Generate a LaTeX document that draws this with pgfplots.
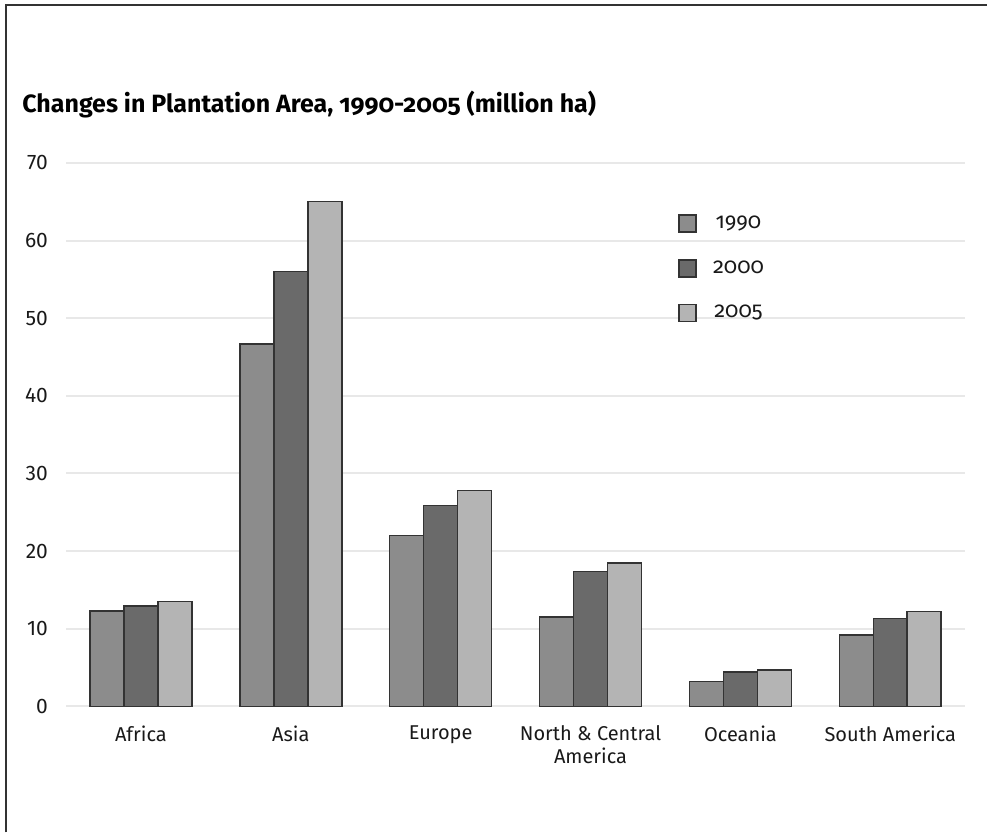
\documentclass[border=0pt]{standalone}
\usepackage{fontspec}
\setmainfont{Fira Sans}
\newfontfamily\oldnum{Fira Sans}[Numbers=OldStyle]
\usepackage{pgfplots}
\pgfplotsset{compat=1.18}

\definecolor{cA}{HTML}{8C8C8C}
\definecolor{cB}{HTML}{6A6A6A}
\definecolor{cC}{HTML}{B4B4B4}

\begin{document}
\begin{tikzpicture}
\begin{axis}[
    scale only axis,
    width=450pt, height=272pt,
    ybar=0pt, bar width=17pt,
    xmin=-0.5, xmax=5.5,
    ymin=0, ymax=70,
    ytick={0,10,...,70},
    xtick={0,...,5},
    xticklabels={Africa, Asia, Europe, {North \& Central\\America}, Oceania, South America},
    xticklabel style={align=center, yshift=-6pt, font=\fontsize{10}{11.5}\selectfont, text=black!90},
    yticklabel style={xshift=-5.5pt, font=\fontsize{10.5}{12}\selectfont, text=black!90},
    /pgf/number format/assume math mode=true,
    axis line style={draw=none},
    major tick length=0pt,
    ymajorgrids,
    grid style={gray!18, line width=1pt},
    legend style={draw=none, fill=none, at={(0.674,0.918)}, anchor=north west,
        font=\oldnum\fontsize{11}{12}\selectfont, row sep=10.5pt, text=black!90,
        /tikz/every odd column/.append style={column sep=6pt}},
    legend image code/.code={\draw[#1] (0pt,-4.25pt) rectangle (8.5pt,4.25pt);},
    every axis plot/.append style={draw=black!80, line width=0.8pt},
]
\addplot[fill=cA] coordinates {(0,12.3) (1,46.7) (2,22.0) (3,11.5) (4,3.2) (5,9.2)};
\addplot[fill=cB] coordinates {(0,12.9) (1,56.0) (2,25.9) (3,17.4) (4,4.4) (5,11.3)};
\addplot[fill=cC] coordinates {(0,13.5) (1,65.0) (2,27.8) (3,18.5) (4,4.7) (5,12.2)};
\legend{1990, 2000, 2005}
\end{axis}
\node[anchor=base west, font=\oldnum\bfseries\fontsize{12.5}{14}\selectfont, inner sep=0pt]
    at (-22pt,297pt) {Changes in Plantation Area, 1990-2005 (million ha)};
\draw[black!80, line width=0.8pt] (-30pt,-63pt) -- (-30pt,351pt) -- (461pt,351pt);
\path[use as bounding box] (-33pt,-63pt) rectangle (461pt,353.5pt);
\end{tikzpicture}
\end{document}
